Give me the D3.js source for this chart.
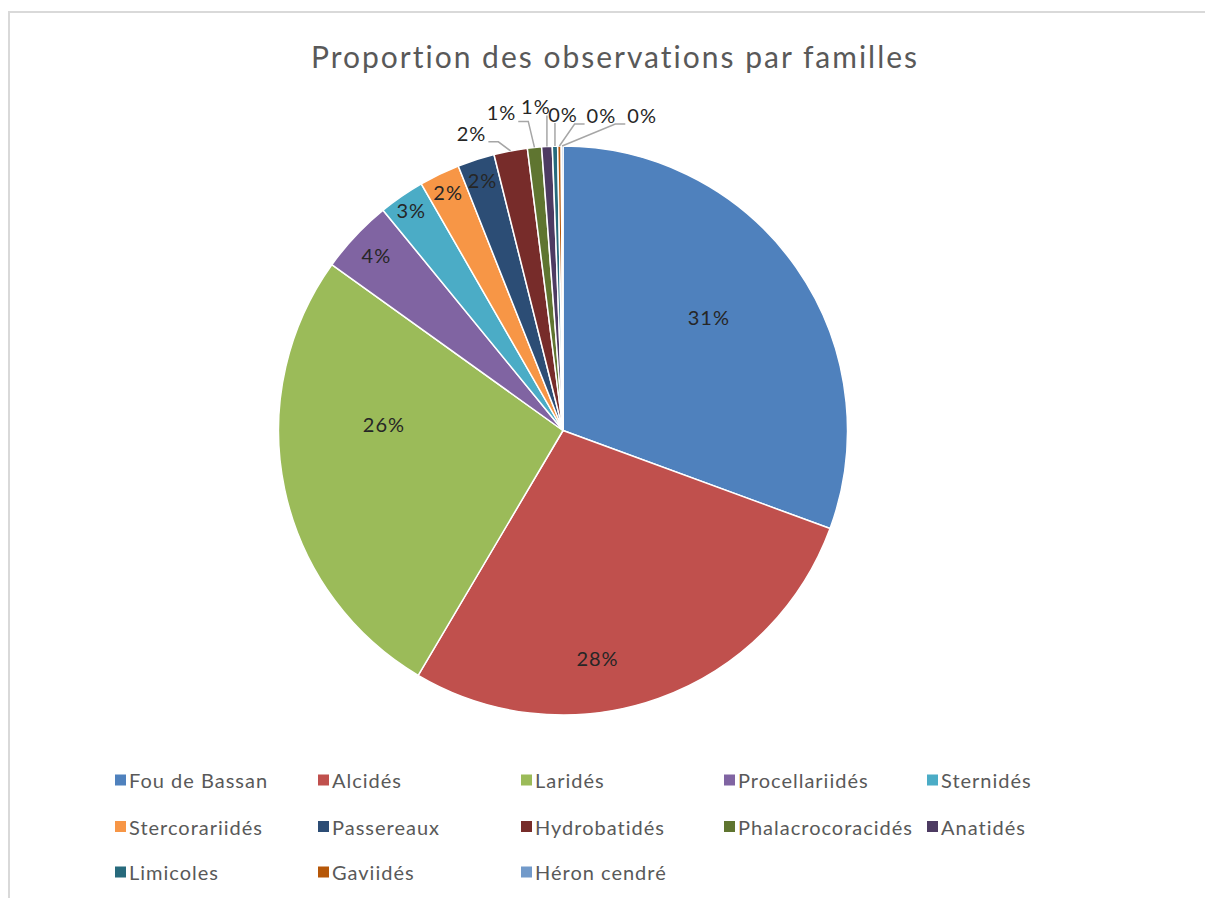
<!DOCTYPE html>
<html>
<head>
<meta charset="utf-8">
<script src="https://cdn.jsdelivr.net/npm/d3@7"></script>
<style>
  html, body { margin: 0; padding: 0; background: #fff; }
  svg { display: block; }
  text { font-family: Lato, "Open Sans", sans-serif; }
</style>
</head>
<body>
<svg id="chart" width="1205" height="898"></svg>
<script>
// Observation shares by bird family (percent of all observations)
const families = ["Fou de Bassan", "Alcidés", "Laridés", "Procellariidés", "Sternidés",
  "Stercorariidés", "Passereaux", "Hydrobatidés", "Phalacrocoracidés", "Anatidés",
  "Limicoles", "Gaviidés", "Héron cendré"];
const shares = [30.6, 27.9, 26.4, 4.2, 2.6, 2.3, 2.1, 1.9, 0.8, 0.6, 0.3, 0.2, 0.1];
const colors = ["#4F81BD", "#C0504D", "#9BBB59", "#8064A2", "#4BACC6", "#F79646",
  "#2C4D75", "#772C2A", "#5F7530", "#4D3B62", "#276A7C", "#B65708", "#729ACA"];
const title = "Proportion des observations par familles";

const W = 1205, H = 898;
const cx = 563, cy = 430.5, R = 284.5;

const svg = d3.select("#chart");

// chart frame
svg.append("rect")
  .attr("x", 9).attr("y", 12)
  .attr("width", W + 20).attr("height", H + 20)
  .attr("fill", "#fff").attr("stroke", "#d9d9d9").attr("stroke-width", 2);

svg.append("text")
  .attr("x", 615).attr("y", 68)
  .attr("text-anchor", "middle")
  .attr("font-size", 30)
  .attr("letter-spacing", 2)
  .attr("fill", "#595959")
  .text(title);

const data = families.map((name, i) => ({ name, value: shares[i], color: colors[i] }));
const total = d3.sum(shares);
const pct = d => Math.round(d.value / total * 100) + "%";

const pie = d3.pie().value(d => d.value).sort(null);
const arcs = pie(data);
const arc = d3.arc().innerRadius(0).outerRadius(R);

const g = svg.append("g").attr("transform", `translate(${cx},${cy})`);

g.selectAll("path.slice")
  .data(arcs)
  .enter().append("path")
  .attr("class", "slice")
  .attr("d", arc)
  .attr("fill", d => d.data.color)
  .attr("stroke", "#fff")
  .attr("stroke-width", 1.5)
  .attr("stroke-linejoin", "round");

// label placement: inside labels sit on a radius fraction (with an angular nudge in degrees),
// outside labels are offset from the slice rim with a leader line
const insideLayout = [
  { r: 0.65, da: -3 }, { r: 0.81, da: 11 }, { r: 0.63, da: 14 },
  { r: 0.90, da: 0 }, { r: 0.94, da: 0 }, { r: 0.93, da: 0 }, { r: 0.925, da: 0 }
];
const outsideOffset = [
  [-39, -18], [-33, -35], [-11, -40], [8, -32], [42, -31], [80, -31]
];

const labelSize = 20;
const lbl = g.append("g");

function polar(angleRad, rad) {
  return [Math.sin(angleRad) * rad, -Math.cos(angleRad) * rad];
}

arcs.forEach((a, i) => {
  const mid = (a.startAngle + a.endAngle) / 2;
  if (i < insideLayout.length) {
    const L = insideLayout[i];
    const [x, y] = polar(mid + L.da * Math.PI / 180, R * L.r);
    lbl.append("text")
      .attr("x", x).attr("y", y)
      .attr("text-anchor", "middle")
      .attr("dominant-baseline", "central")
      .attr("font-size", labelSize)
      .attr("letter-spacing", 1)
      .attr("fill", "#262626")
      .text(pct(a.data));
  } else {
    const off = outsideOffset[i - insideLayout.length];
    const [ex, ey] = polar(mid, R);
    const lx = ex + off[0], ly = ey + off[1];
    const t = lbl.append("text")
      .attr("x", lx).attr("y", ly)
      .attr("text-anchor", "middle")
      .attr("dominant-baseline", "central")
      .attr("font-size", labelSize)
      .attr("letter-spacing", 1)
      .attr("fill", "#262626")
      .text(pct(a.data));
    const hw = t.node().getComputedTextLength() / 2 + 2;
    const by = ly + 9;
    let pts;
    if (ex > lx + hw) {
      pts = [[ex, ey], [lx + hw + 10, by], [lx + hw, by]];
    } else if (ex < lx - hw) {
      pts = [[ex, ey], [lx - hw - 10, by], [lx - hw, by]];
    } else {
      pts = [[ex, ey], [ex, by]];
    }
    lbl.append("polyline")
      .attr("points", pts.map(p => p.join(",")).join(" "))
      .attr("fill", "none")
      .attr("stroke", "#a6a6a6")
      .attr("stroke-width", 1.5);
  }
});

// legend: 5 equal-width columns
const legX0 = 115, colW = 203, rowY = [780, 826.5, 872];
const leg = svg.append("g");
data.forEach((d, i) => {
  const col = i % 5, row = Math.floor(i / 5);
  const x = legX0 + col * colW, y = rowY[row];
  leg.append("rect")
    .attr("x", x).attr("y", y - 5.5)
    .attr("width", 11).attr("height", 11)
    .attr("fill", d.color);
  leg.append("text")
    .attr("x", x + 14).attr("y", y)
    .attr("dominant-baseline", "central")
    .attr("font-size", 20)
    .attr("letter-spacing", 1)
    .attr("fill", "#595959")
    .text(d.name);
});
</script>
</body>
</html>
